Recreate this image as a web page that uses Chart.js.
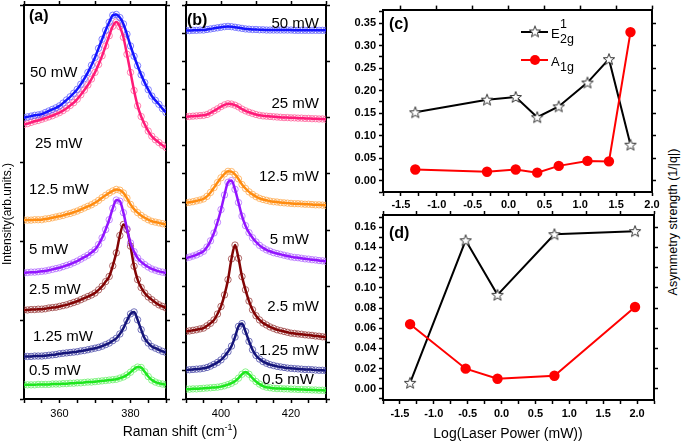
<!DOCTYPE html>
<html>
<head>
<meta charset="utf-8">
<title>Raman spectra and asymmetry strength</title>
<script src="https://cdn.jsdelivr.net/npm/chart.js@4.4.1/dist/chart.umd.min.js"></script>
<style>
  html, body { margin: 0; padding: 0; background: #fff; }
  body { position: relative; width: 685px; height: 442px; overflow: hidden;
         font-family: "Liberation Sans", Arial, sans-serif; color: #000; }
  canvas { position: absolute; }
  .lbl { position: absolute; white-space: nowrap; line-height: 1; transform: translateY(-50%); }
  .pw { font-size: 15px; }
  .pn { font-size: 16px; font-weight: bold; }
  .ax { position: absolute; white-space: nowrap; line-height: 1; transform: translate(-50%, -50%); font-size: 14px; }
  .rot { transform: translate(-50%, -50%) rotate(-90deg); }
  sup { font-size: 9px; vertical-align: 6px; line-height: 0; }
</style>
</head>
<body>
<canvas id="chartA" width="178" height="442" style="left:0;top:0"></canvas>
<canvas id="chartB" width="154" height="442" style="left:178px;top:0"></canvas>
<canvas id="chartC" width="327" height="213" style="left:335px;top:0"></canvas>
<canvas id="chartD" width="327" height="242" style="left:335px;top:200px"></canvas>

<!-- panel letters -->
<div class="lbl pn" style="left:29px;top:16px">(a)</div>
<div class="lbl pn" style="left:187px;top:20px">(b)</div>
<div class="lbl pn" style="left:389px;top:24px">(c)</div>
<div class="lbl pn" style="left:389px;top:233px">(d)</div>

<!-- laser power labels, panel (a) -->
<div class="lbl pw" style="left:30px;top:71px">50 mW</div>
<div class="lbl pw" style="left:35px;top:142px">25 mW</div>
<div class="lbl pw" style="left:29px;top:188px">12.5 mW</div>
<div class="lbl pw" style="left:29px;top:248px">5 mW</div>
<div class="lbl pw" style="left:29px;top:288px">2.5 mW</div>
<div class="lbl pw" style="left:33px;top:335px">1.25 mW</div>
<div class="lbl pw" style="left:29px;top:369px">0.5 mW</div>

<!-- laser power labels, panel (b) -->
<div class="lbl pw" style="right:366px;top:22px">50 mW</div>
<div class="lbl pw" style="right:366px;top:102px">25 mW</div>
<div class="lbl pw" style="right:366px;top:175px">12.5 mW</div>
<div class="lbl pw" style="right:376px;top:238px">5 mW</div>
<div class="lbl pw" style="right:366px;top:305px">2.5 mW</div>
<div class="lbl pw" style="right:366px;top:349px">1.25 mW</div>
<div class="lbl pw" style="right:371px;top:378px">0.5 mW</div>

<!-- axis titles -->
<div class="ax rot" style="left:7px;top:214px;font-size:12px">Intensity(arb.units.)</div>
<div class="ax" style="left:180px;top:431px">Raman shift (cm<sup>-1</sup>)</div>
<div class="ax" style="left:508px;top:433px">Log(Laser Power (mW))</div>
<div class="ax rot" style="left:673px;top:222px;font-size:12.5px">Asymmetry strength (1/|q|)</div>

<script>
// Raman shift grids (cm-1)
const shiftA = [350,351,352,353,354,355,356,357,358,359,360,361,362,363,364,365,366,367,368,369,370,
                371,372,373,374,375,376,377,378,379,380,381,382,383,384,385,386,387,388,389,390];
const shiftB = [390,391,392,393,394,395,396,397,398,399,400,401,402,403,404,405,406,407,408,409,410,
                411,412,413,414,415,416,417,418,419,420,421,422,423,424,425,426,427,428,429,430];

// E2g mode spectra, panel (a), offset intensities
const a50  = [71.4,71.6,71.8,72.0,72.1,72.3,72.7,73.1,73.5,73.9,74.4,75.1,75.9,76.7,77.6,78.6,79.9,81.3,82.9,84.7,86.7,
              89.0,91.3,93.6,95.6,97.4,97.6,96.8,95.2,92.6,89.6,87.0,84.6,82.3,80.3,78.5,76.9,75.8,74.8,73.7,72.7];
const a25  = [69.7,69.9,70.2,70.5,70.7,71.0,71.3,71.6,71.9,72.3,72.7,73.2,73.8,74.5,75.2,76.1,77.2,78.4,79.7,81.2,82.9,
              84.9,87.1,89.6,92.2,94.6,95.7,94.5,91.8,87.5,82.9,78.3,74.4,71.7,69.7,68.0,66.7,65.8,65.1,64.4,63.8];
const a12  = [45.4,45.4,45.4,45.5,45.5,45.5,45.7,45.8,46.0,46.2,46.4,46.6,46.9,47.1,47.4,47.7,48.1,48.5,48.9,49.3,49.8,
              50.4,51.1,51.7,52.3,52.8,53.2,53.0,52.3,51.0,49.4,48.2,47.3,46.6,46.0,45.5,45.1,44.9,44.7,44.5,44.3];
const a5   = [32.0,32.1,32.2,32.2,32.3,32.4,32.5,32.7,32.9,33.1,33.3,33.6,33.9,34.2,34.6,35.0,35.5,36.0,36.5,37.2,37.9,
              39.2,40.9,43.0,45.5,48.4,50.5,50.2,47.3,43.2,39.6,37.4,35.8,34.8,34.1,33.5,33.0,32.7,32.4,32.2,32.0];
const a2   = [22.6,22.6,22.7,22.7,22.8,22.8,22.9,23.1,23.2,23.3,23.5,23.7,23.9,24.2,24.5,24.8,25.2,25.6,26.0,26.4,26.9,
              27.7,28.6,29.8,31.1,33.8,37.1,41.5,44.3,43.0,38.8,33.7,30.3,28.3,26.9,25.9,25.2,24.5,23.9,23.5,23.1];
const a1   = [10.8,10.8,10.8,10.9,10.9,10.9,11.0,11.1,11.2,11.3,11.5,11.6,11.7,11.8,11.9,12.0,12.2,12.3,12.5,12.7,12.9,
              13.1,13.4,13.8,14.2,14.8,15.4,16.5,18.0,19.9,21.6,22.1,20.1,17.6,15.4,14.2,13.3,12.9,12.5,12.1,11.8];
const a05  = [3.6,3.6,3.6,3.6,3.7,3.7,3.7,3.7,3.8,3.8,3.8,3.9,3.9,4.0,4.0,4.1,4.1,4.2,4.3,4.3,4.4,
              4.5,4.6,4.7,4.8,4.9,5.0,5.3,5.6,6.1,6.8,7.6,8.1,8.0,6.9,5.7,4.8,4.3,4.0,3.8,3.6];

// A1g mode spectra, panel (b), offset intensities
const b50  = [13.09,13.09,13.10,13.10,13.11,13.11,13.13,13.15,13.17,13.19,13.21,13.23,13.24,13.23,13.21,13.19,13.17,13.15,13.14,13.13,13.13,
              13.12,13.12,13.11,13.11,13.11,13.11,13.11,13.11,13.11,13.11,13.10,13.10,13.10,13.10,13.10,13.10,13.10,13.10,13.10,13.10];
const b25  = [10.03,10.04,10.05,10.06,10.07,10.08,10.11,10.17,10.24,10.31,10.39,10.45,10.49,10.48,10.44,10.38,10.30,10.24,10.19,10.15,10.11,
              10.08,10.06,10.05,10.04,10.03,10.02,10.01,10.00,10.00,9.99,9.99,9.98,9.98,9.97,9.97,9.96,9.96,9.95,9.95,9.94];
const b12  = [6.97,6.99,7.01,7.04,7.07,7.11,7.20,7.34,7.51,7.69,7.86,8.00,8.09,8.08,7.98,7.82,7.62,7.48,7.36,7.27,7.19,
              7.13,7.09,7.06,7.03,7.01,7.00,6.98,6.97,6.96,6.95,6.94,6.94,6.93,6.92,6.92,6.91,6.90,6.90,6.89,6.88];
const b5   = [5.01,5.04,5.08,5.12,5.18,5.25,5.40,5.62,5.90,6.28,6.73,7.25,7.70,7.76,7.45,6.98,6.50,6.16,5.91,5.73,5.58,
              5.46,5.37,5.30,5.25,5.20,5.17,5.14,5.11,5.08,5.05,5.03,5.02,5.00,4.98,4.97,4.95,4.94,4.92,4.91,4.89];
const b2   = [2.40,2.42,2.44,2.46,2.49,2.52,2.60,2.69,2.81,3.02,3.29,3.70,4.24,4.98,5.47,5.00,4.35,3.88,3.48,3.17,2.96,
              2.81,2.70,2.63,2.56,2.51,2.46,2.43,2.40,2.37,2.34,2.33,2.31,2.30,2.28,2.27,2.26,2.24,2.23,2.21,2.20];
const b1   = [1.03,1.04,1.05,1.06,1.07,1.09,1.12,1.17,1.23,1.30,1.39,1.52,1.68,1.88,2.20,2.58,2.68,2.40,2.05,1.75,1.55,
              1.42,1.33,1.27,1.22,1.19,1.16,1.14,1.12,1.10,1.09,1.08,1.07,1.06,1.05,1.05,1.04,1.03,1.02,1.02,1.01];
const b05  = [0.35,0.35,0.36,0.36,0.37,0.38,0.39,0.40,0.41,0.42,0.44,0.47,0.51,0.56,0.63,0.74,0.88,0.96,0.88,0.74,0.62,
              0.53,0.46,0.42,0.40,0.38,0.37,0.37,0.36,0.36,0.35,0.35,0.34,0.34,0.33,0.33,0.32,0.32,0.31,0.31,0.30];

// asymmetry strength, panel (c)
const cPower = [-1.3, -0.3, 0.1, 0.4, 0.7, 1.1, 1.4, 1.7];
const cE2g   = [0.152, 0.180, 0.186, 0.141, 0.165, 0.218, 0.270, 0.080];
const cA1g   = [0.025, 0.020, 0.025, 0.018, 0.033, 0.044, 0.043, 0.330];

// asymmetry strength, panel (d)
const dPower = [-1.35, -0.53, -0.06, 0.78, 1.97];
const dE2g   = [0.006, 0.147, 0.093, 0.153, 0.156];
const dA1g   = [0.064, 0.020, 0.010, 0.013, 0.081];

Chart.defaults.font.family = '"Liberation Sans", Arial, sans-serif';
Chart.defaults.color = '#000';
Chart.defaults.animation = false;
Chart.defaults.plugins.legend.display = false;
Chart.defaults.plugins.tooltip.enabled = false;

const pts = (xs, ys) => xs.map((x, i) => ({ x: x, y: ys[i] }));

// fit line on top, measured points as open circles underneath
function spectrum(xs, ys, line, dots) {
    const data = pts(xs, ys);
    return [
        { data: data, showLine: true, borderColor: line, borderWidth: 2.5, pointRadius: 0,
          cubicInterpolationMode: 'monotone', order: 1 },
        { data: data, showLine: false, pointRadius: 3.2, pointStyle: 'circle', pointBorderColor: dots,
          pointBorderWidth: 1, pointBackgroundColor: 'rgba(0,0,0,0)', order: 2 }
    ];
}

// one axis with outward ticks; size fixes the box so the plot areas line up
function axis(pos, min, max, step, size, labelFn, font, pad) {
    const vertical = pos === 'left' || pos === 'right';
    return {
        type: 'linear', position: pos, min: min, max: max,
        border: { display: true, color: '#000', width: 2 },
        grid: { drawOnChartArea: false, drawTicks: true, tickLength: 4, tickColor: '#000', tickWidth: 1.5 },
        ticks: { display: !!labelFn, stepSize: step, autoSkip: false, includeBounds: false, maxRotation: 0,
                 padding: pad || 3, color: '#000', font: font || { size: 11 },
                 callback: labelFn || (() => '') },
        afterFit: s => { if (vertical) s.width = size; else s.height = size; }
    };
}

const near = (v, m) => Math.abs(v / m - Math.round(v / m)) < 1e-6;
const specFont = { size: 11 };
const asymFont = { size: 11, weight: 'bold' };

// panel (a)
new Chart(document.getElementById('chartA'), {
    type: 'scatter',
    data: { datasets: [].concat(
        spectrum(shiftA, a50, '#1414ff', 'rgba(90,90,255,0.75)'),
        spectrum(shiftA, a25, '#ff1a78', 'rgba(255,90,150,0.75)'),
        spectrum(shiftA, a12, '#ff8c10', 'rgba(255,165,70,0.75)'),
        spectrum(shiftA, a5,  '#9214ff', 'rgba(175,100,255,0.75)'),
        spectrum(shiftA, a2,  '#820404', 'rgba(150,55,55,0.75)'),
        spectrum(shiftA, a1,  '#15157a', 'rgba(70,70,165,0.75)'),
        spectrum(shiftA, a05, '#1ee61e', 'rgba(100,240,100,0.75)')
    ) },
    options: {
        responsive: false,
        layout: { padding: 0 },
        scales: {
            x: axis('bottom', 350, 390, 5, 43, v => (v === 360 || v === 380) ? String(v) : '', specFont, 4),
            x2: axis('top', 350, 390, 10, 5),
            y: axis('left', 0, 100, 20, 24),
            y2: axis('right', 0, 100, 20, 12)
        }
    }
});

// panel (b)
new Chart(document.getElementById('chartB'), {
    type: 'scatter',
    data: { datasets: [].concat(
        spectrum(shiftB, b50, '#1414ff', 'rgba(90,90,255,0.75)'),
        spectrum(shiftB, b25, '#ff1a78', 'rgba(255,90,150,0.75)'),
        spectrum(shiftB, b12, '#ff8c10', 'rgba(255,165,70,0.75)'),
        spectrum(shiftB, b5,  '#9214ff', 'rgba(175,100,255,0.75)'),
        spectrum(shiftB, b2,  '#820404', 'rgba(150,55,55,0.75)'),
        spectrum(shiftB, b1,  '#15157a', 'rgba(70,70,165,0.75)'),
        spectrum(shiftB, b05, '#1ee61e', 'rgba(100,240,100,0.75)')
    ) },
    options: {
        responsive: false,
        layout: { padding: 0 },
        scales: {
            x: axis('bottom', 390, 430, 5, 43, v => (v === 400 || v === 420) ? String(v) : '', specFont, 4),
            x2: axis('top', 390, 430, 10, 5),
            y: axis('left', 0, 14, 1, 8),
            y2: axis('right', 0, 14, 2, 6)
        }
    }
});

// open star marker
function starMarker() {
    const c = document.createElement('canvas');
    c.width = 14; c.height = 14;
    const g = c.getContext('2d');
    g.beginPath();
    for (let i = 0; i < 10; i++) {
        const r = i % 2 ? 2.5 : 6;
        const a = -Math.PI / 2 + i * Math.PI / 5;
        g.lineTo(7 + r * Math.cos(a), 7.5 + r * Math.sin(a));
    }
    g.closePath();
    g.fillStyle = '#fff';
    g.fill();
    g.strokeStyle = '#333';
    g.lineWidth = 1;
    g.stroke();
    return c;
}
const star = starMarker();

function asymSets(xs, e2g, a1g) {
    return [
        { data: pts(xs, e2g), showLine: true, borderColor: '#000', borderWidth: 2,
          pointStyle: star, pointRadius: 6, order: 2, clip: false },
        { data: pts(xs, a1g), showLine: true, borderColor: '#ff0000', borderWidth: 2,
          pointStyle: 'circle', pointRadius: 4.2, pointBackgroundColor: '#ff0000',
          pointBorderColor: '#ff0000', order: 1, clip: false }
    ];
}

// legend with sub/superscripts
const modeLegend = {
    id: 'modeLegend',
    afterDraw(chart) {
        const g = chart.ctx;
        g.save();
        g.lineWidth = 2;
        g.strokeStyle = '#000';
        g.beginPath(); g.moveTo(186, 32); g.lineTo(213, 32); g.stroke();
        g.drawImage(star, 200 - 7, 32 - 7.5);
        g.strokeStyle = '#ff0000';
        g.beginPath(); g.moveTo(186, 60); g.lineTo(213, 60); g.stroke();
        g.fillStyle = '#ff0000';
        g.beginPath(); g.arc(200, 60, 5, 0, Math.PI * 2); g.fill();
        g.fillStyle = '#000';
        g.textBaseline = 'alphabetic';
        g.font = '13px "Liberation Sans", Arial, sans-serif';
        g.fillText('E', 216, 38);
        g.fillText('A', 216, 66);
        g.font = '12.5px "Liberation Sans", Arial, sans-serif';
        g.fillText('1', 225, 28);
        g.fillText('2g', 225, 43);
        g.fillText('1g', 225, 71);
        g.restore();
    }
};

// panel (c)
new Chart(document.getElementById('chartC'), {
    type: 'scatter',
    data: { datasets: asymSets(cPower, cE2g, cA1g) },
    options: {
        responsive: false,
        layout: { padding: 0 },
        scales: {
            x: axis('bottom', -1.75, 2.0, 0.25, 21, v => near(v, 0.5) ? v.toFixed(1) : '', asymFont, 2),
            x2: axis('top', -1.75, 2.0, 0.5, 6),
            y: axis('left', -0.025, 0.38, 0.025, 48, v => (v > -1e-9 && near(v, 0.05)) ? v.toFixed(2) : '', asymFont, 3),
            y2: axis('right', -0.025, 0.38, 0.05, 10)
        }
    },
    plugins: [modeLegend]
});

// panel (d)
new Chart(document.getElementById('chartD'), {
    type: 'scatter',
    data: { datasets: asymSets(dPower, dE2g, dA1g) },
    options: {
        responsive: false,
        layout: { padding: 0 },
        scales: {
            x: axis('bottom', -1.75, 2.25, 0.25, 42, v => near(v, 0.5) ? v.toFixed(1) : '', asymFont, 3),
            x2: axis('top', -1.75, 2.25, 0.5, 15),
            y: axis('left', -0.011, 0.172, 0.01, 48, v => (v > -1e-9 && near(v, 0.02)) ? v.toFixed(2) : '', asymFont, 3),
            y2: axis('right', -0.011, 0.172, 0.02, 8)
        }
    }
});
</script>
</body>
</html>
